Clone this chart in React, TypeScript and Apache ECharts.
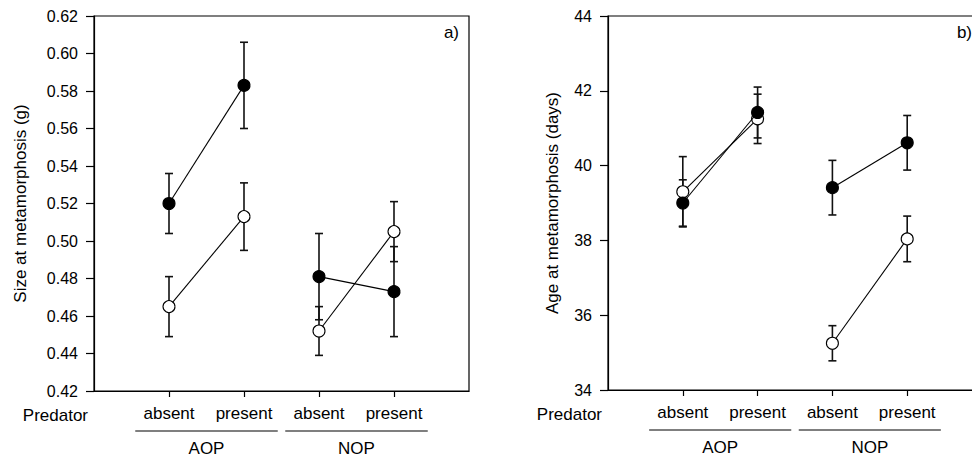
import React, { useEffect, useRef } from 'react';
import * as echarts from 'echarts';

// Treatment positions on the x axis and their labels
const xPositions = [1, 2, 3, 4];
const predatorLabels = ['absent', 'present', 'absent', 'present'];
const groupNames = ['AOP', 'NOP'];
const groupSpans = [
  [0.55, 2.45],
  [2.55, 4.45],
];

// Panel a) Size at metamorphosis (g)
const sizeOpenMean = [0.465, 0.513, 0.452, 0.505];
const sizeOpenSE = [0.016, 0.018, 0.013, 0.016];
const sizeFilledMean = [0.52, 0.583, 0.481, 0.473];
const sizeFilledSE = [0.016, 0.023, 0.023, 0.024];
const sizeTicks = { min: 0.42, max: 0.62, interval: 0.02 };

// Panel b) Age at metamorphosis (days)
const ageOpenMean = [39.3, 41.25, 35.25, 38.04];
const ageOpenSE = [0.94, 0.66, 0.47, 0.61];
const ageFilledMean = [39.0, 41.42, 39.41, 40.61];
const ageFilledSE = [0.62, 0.68, 0.73, 0.73];
const ageTicks = { min: 34, max: 44, interval: 2 };

const FONT = '"Liberation Sans", Arial, Helvetica, sans-serif';
const INK = '#000';

function errorSeries(axisIndex: number, means: number[], ses: number[]) {
  return {
    type: 'custom',
    xAxisIndex: axisIndex,
    yAxisIndex: axisIndex,
    z: 1,
    silent: true,
    clip: false,
    data: xPositions.map((x, i) => [x, means[i] - ses[i], means[i] + ses[i]]),
    encode: { x: 0, y: [1, 2] },
    renderItem: (params: any, api: any) => {
      const x = api.value(0);
      const lo = api.coord([x, api.value(1)]);
      const hi = api.coord([x, api.value(2)]);
      const half = 4;
      const style = { stroke: '#111', lineWidth: 1.6 };
      return {
        type: 'group',
        children: [
          { type: 'line', shape: { x1: lo[0], y1: lo[1], x2: hi[0], y2: hi[1] }, style },
          { type: 'line', shape: { x1: lo[0] - half, y1: lo[1], x2: lo[0] + half, y2: lo[1] }, style },
          { type: 'line', shape: { x1: hi[0] - half, y1: hi[1], x2: hi[0] + half, y2: hi[1] }, style },
        ],
      };
    },
  };
}

function lineSeries(axisIndex: number, means: number[], filled: boolean, group: number) {
  const idx = [group * 2, group * 2 + 1];
  return {
    type: 'line',
    xAxisIndex: axisIndex,
    yAxisIndex: axisIndex,
    z: filled ? 4 : 3,
    silent: true,
    data: idx.map((i) => [xPositions[i], means[i]]),
    symbol: 'circle',
    symbolSize: 12,
    showSymbol: true,
    lineStyle: { color: INK, width: 1.1 },
    itemStyle: { color: filled ? INK : '#fff', borderColor: INK, borderWidth: 1.1 },
  };
}

function xAxisDef(gridIndex: number) {
  return {
    type: 'value',
    gridIndex,
    min: 0,
    max: 5,
    interval: 1,
    splitLine: { show: false },
    axisLine: { show: true, lineStyle: { color: INK, width: 1.2 } },
    axisTick: { show: true, customValues: xPositions, length: 6, lineStyle: { color: INK, width: 1.2 } },
    axisLabel: {
      customValues: xPositions,
      formatter: (v: number) => {
        const i = xPositions.indexOf(v);
        return i >= 0 ? predatorLabels[i] : '';
      },
      fontFamily: FONT,
      fontSize: 17,
      color: INK,
      margin: 14,
    },
  };
}

function yAxisDef(gridIndex: number, t: { min: number; max: number; interval: number }, name: string, nameGap: number, decimals: number) {
  return {
    type: 'value',
    gridIndex,
    min: t.min,
    max: t.max,
    interval: t.interval,
    splitLine: { show: false },
    axisLine: { show: true, lineStyle: { color: INK, width: 1.2 } },
    axisTick: { show: true, length: 8, lineStyle: { color: INK, width: 1.2 } },
    axisLabel: {
      formatter: (v: number) => v.toFixed(decimals),
      fontFamily: FONT,
      fontSize: 16,
      color: INK,
      margin: 16,
    },
    name,
    nameLocation: 'middle',
    nameGap,
    nameTextStyle: { fontFamily: FONT, fontSize: 17, color: INK },
  };
}

export default function App() {
  const ref = useRef<HTMLDivElement>(null);

  useEffect(() => {
    if (!ref.current) return;
    const chart = echarts.init(ref.current, undefined, { renderer: 'svg' });
    chart.setOption({
      animation: false,
      backgroundColor: '#fff',
      grid: [
        { left: 94, top: 16, width: 375, height: 375, show: true, borderColor: INK, borderWidth: 1.2, backgroundColor: 'transparent', outerBoundsMode: 'none', containLabel: false },
        { left: 608, top: 16, width: 374, height: 374, show: true, borderColor: INK, borderWidth: 1.2, backgroundColor: 'transparent', outerBoundsMode: 'none', containLabel: false },
      ],
      xAxis: [xAxisDef(0), xAxisDef(1)],
      yAxis: [
        yAxisDef(0, sizeTicks, 'Size at metamorphosis (g)', 65, 2),
        yAxisDef(1, ageTicks, 'Age at metamorphosis (days)', 47, 0),
      ],
      series: [
        errorSeries(0, sizeOpenMean, sizeOpenSE),
        errorSeries(0, sizeFilledMean, sizeFilledSE),
        lineSeries(0, sizeOpenMean, false, 0),
        lineSeries(0, sizeOpenMean, false, 1),
        lineSeries(0, sizeFilledMean, true, 0),
        lineSeries(0, sizeFilledMean, true, 1),
        errorSeries(1, ageOpenMean, ageOpenSE),
        errorSeries(1, ageFilledMean, ageFilledSE),
        lineSeries(1, ageOpenMean, false, 0),
        lineSeries(1, ageOpenMean, false, 1),
        lineSeries(1, ageFilledMean, true, 0),
        lineSeries(1, ageFilledMean, true, 1),
      ],
    });

    // Decorations placed through the axes' own scales
    const graphics: any[] = [];
    const panels = [
      { idx: 0, ymin: sizeTicks.min, ymax: sizeTicks.max, tag: 'a)' },
      { idx: 1, ymin: ageTicks.min, ymax: ageTicks.max, tag: 'b)' },
    ];
    panels.forEach((p) => {
      const px = (v: number) => chart.convertToPixel({ xAxisIndex: p.idx }, v) as number;
      const bottom = chart.convertToPixel({ yAxisIndex: p.idx }, p.ymin) as number;
      const top = chart.convertToPixel({ yAxisIndex: p.idx }, p.ymax) as number;
      const left = px(0);
      const right = px(5);
      graphics.push({
        type: 'text',
        x: left - 6,
        y: bottom + 24,
        style: { text: 'Predator', fontFamily: FONT, fontSize: 17, fill: INK, align: 'right', verticalAlign: 'middle' },
      });
      graphics.push({
        type: 'text',
        x: right - 10,
        y: top + 16,
        style: { text: p.tag, fontFamily: FONT, fontSize: 17, fill: INK, align: 'right', verticalAlign: 'middle' },
      });
      groupSpans.forEach((s, gi) => {
        const x1 = px(s[0]);
        const x2 = px(s[1]);
        graphics.push({
          type: 'line',
          shape: { x1, y1: bottom + 40, x2, y2: bottom + 40 },
          style: { stroke: INK, lineWidth: 1.2 },
        });
        graphics.push({
          type: 'text',
          x: (x1 + x2) / 2,
          y: bottom + 57,
          style: { text: groupNames[gi], fontFamily: FONT, fontSize: 17, fill: INK, align: 'center', verticalAlign: 'middle' },
        });
      });
    });
    chart.setOption({ graphic: graphics });

    return () => chart.dispose();
  }, []);

  return <div ref={ref} style={{ position: 'absolute', left: 0, top: 0, width: 972, height: 456 }} />;
}
